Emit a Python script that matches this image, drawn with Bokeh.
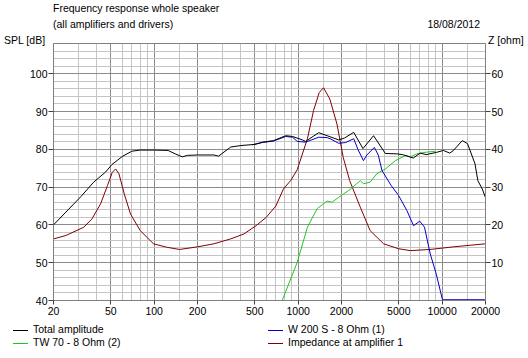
from bokeh.plotting import figure
from bokeh.models import Range1d, LinearAxis, FixedTicker, NumeralTickFormatter, Div
from bokeh.layouts import column
from bokeh.embed import file_html
from bokeh.resources import INLINE

# ---- data ----
total_f = [20, 24.4, 31, 38, 46, 51, 60, 70, 80, 100, 125, 140, 157, 170, 200, 260, 280, 340, 400, 500,
           565, 675, 820, 915, 1070, 1125, 1390, 1590, 1910, 2100, 2430, 2820, 3340, 4030, 4850, 5300, 6300,
           7040, 7740, 9150, 10200, 11300, 11900, 13800, 15000, 16900, 17700, 19000, 20000]
total_db = [60, 63.4, 67.5, 71.3, 74, 76, 78.1, 79.5, 79.8, 79.8, 79.7, 78.8, 78, 78.4, 78.5, 78.5, 78.2, 80.6, 81, 81.3,
            81.9, 82.3, 83.6, 83.4, 82.5, 82.1, 84.4, 83.6, 82.5, 83, 84.5, 80.2, 83.6, 78.9, 78.8, 78.6, 77.7,
            79, 78.6, 79.2, 79.7, 79, 79.6, 82.3, 81.5, 76.2, 71.7, 69.5, 67.2]

woofer_f = [480, 565, 675, 820, 915, 985, 1125, 1390, 1590, 1690, 1910, 2140, 2430, 2600, 2840, 3000, 3380, 3600,
            3820, 4430, 4980, 5690, 6330, 6990, 7540, 8270, 9100, 10050, 20000]
woofer_db = [81.2, 81.8, 82.2, 83.4, 83.2, 82.1, 81.9, 83.2, 83.1, 82.7, 81.6, 81.8, 82.8, 80, 77, 78.5, 80.5, 78.5,
             74.4, 70.4, 67.8, 63.8, 59.8, 61, 59.4, 52.3, 47, 40.2, 40.2]

tweeter_f = [20, 775, 985, 1160, 1355, 1590, 1720, 1910, 2240, 2700, 2840, 3160, 3510, 4030, 4730, 5600, 6000,
             6670, 7600, 9000]
tweeter_db = [40, 40, 50.1, 59.4, 64.3, 66.3, 66, 67.3, 69.1, 71.7, 70.9, 71.3, 73.5, 74.8, 77, 78.4, 78,
              78.8, 79.2, 79.5]

imp_f = [20, 24.4, 32.5, 37, 42.5, 47.4, 51.2, 54, 57, 62, 68.5, 80, 99, 122, 150, 200, 260, 340, 420, 510,
         600, 700, 790, 890, 985, 1160, 1280, 1400, 1500, 1660, 1860, 2055, 2280, 2700, 3160, 3920, 4980, 6000,
         8220, 12000, 20000]
imp_ohm = [16.3, 17.2, 19.4, 21.6, 25.6, 30.4, 33.9, 34.8, 33.5, 28.2, 22.9, 18.5, 15, 14.1, 13.5, 14.2, 15, 16.3,
           17.6, 19.8, 22, 25, 29.5, 31.8, 34.6, 42.8, 50.3, 55, 56.3, 53.3, 46.7, 37.9, 31.7, 24.7, 18.5, 15, 13.7,
           13.2, 13.5, 14.2, 15]

freq_ticks = [20, 50, 100, 200, 500, 1000, 2000, 5000, 10000, 20000]
freq_minor = [30, 40, 60, 70, 80, 90, 150, 300, 400, 600, 700, 800, 900, 1500, 3000, 4000, 6000, 7000, 8000,
              9000, 15000]
spl_ticks = [40, 50, 60, 70, 80, 90, 100]
spl_minor = [42, 44, 46, 48, 52, 54, 56, 58, 62, 64, 66, 68, 72, 74, 76, 78, 82, 84, 86, 88, 92, 94, 96, 98,
             102, 104, 106, 108]
z_ticks = [10, 20, 30, 40, 50, 60]

title1 = "Frequency response whole speaker"
title2 = "(all amplifiers and drivers)"
date_txt = "18/08/2012"
left_label = "SPL [dB]"
right_label = "Z [ohm]"
legend_names = ["Total amplitude", "W 200 S - 8 Ohm (1)", "TW 70 - 8 Ohm (2)", "Impedance at amplifier 1"]
colors = ["#000000", "#0000c8", "#22c422", "#800000"]

FONT = "Liberation Sans"
FS = "10.5px"
W = 528
HEAD_H, MAIN_H, FOOT_H = 43, 279, 36

TXT_CSS = (f"position:absolute;white-space:nowrap;font-family:'{FONT}';font-size:{FS};"
           "line-height:12px;color:#000;")


def tspan(text, top, left=None, right=None):
    side = f"left:{left}px;" if left is not None else f"right:{right}px;"
    return f'<span style="{TXT_CSS}{side}top:{top}px;">{text}</span>'


def lspan(left, top, color):
    return (f'<span style="position:absolute;display:block;left:{left}px;top:{top}px;width:15px;height:1px;'
            f'background-color:{color};"></span>')


def box(inner, h):
    return (f'<div style="position:relative;width:{W}px;height:{h}px;overflow:visible;">'
            + inner + '</div>')


# ---- header (HTML text) ----
head_html = box(
    tspan(title1, 1.6, left=53)
    + tspan(title2, 18, left=53)
    + tspan(date_txt, 18, right=W - 480)
    + tspan(left_label, 34, left=4)
    + tspan(right_label, 34, left=488),
    HEAD_H)
head = Div(text=head_html, width=W, height=HEAD_H, margin=0, styles={"overflow": "visible"})

# ---- main chart ----
p = figure(width=W, height=MAIN_H, x_axis_type="log", x_range=Range1d(20, 20000), y_range=Range1d(40, 108),
           output_backend="svg", toolbar_location=None,
           min_border_left=53, min_border_right=43, min_border_top=0, min_border_bottom=MAIN_H - 257,
           background_fill_color="white", border_fill_color=None, outline_line_color="#808080")
p.extra_y_ranges = {"z": Range1d(0, 68)}

xt = FixedTicker(ticks=freq_ticks, minor_ticks=freq_minor)
yt = FixedTicker(ticks=spl_ticks, minor_ticks=spl_minor)
p.xaxis[0].ticker = xt
p.yaxis[0].ticker = yt
p.xgrid[0].ticker = xt
p.ygrid[0].ticker = yt
p.xaxis[0].formatter = NumeralTickFormatter(format="0")

zax = LinearAxis(y_range_name="z", ticker=FixedTicker(ticks=z_ticks))
p.add_layout(zax, "right")

for g in (p.xgrid[0], p.ygrid[0]):
    g.grid_line_color = "#8c8c8c"
    g.minor_grid_line_color = "#c4c4c4"
    g.level = "underlay"

for ax in (p.xaxis[0], p.yaxis[0], zax):
    ax.axis_line_color = "#808080"
    ax.major_tick_line_color = "#404040"
    ax.major_tick_in = 0
    ax.major_tick_out = 5
    ax.minor_tick_in = 0
    ax.minor_tick_out = 0
    ax.major_label_standoff = 1
    ax.major_label_text_font = FONT
    ax.major_label_text_font_size = FS
    ax.major_label_text_color = "black"
p.xaxis[0].major_tick_out = 4
p.xaxis[0].major_label_standoff = 2

p.line(imp_f, imp_ohm, y_range_name="z", line_color=colors[3], line_width=1)
p.line(tweeter_f, tweeter_db, line_color=colors[2], line_width=1)
p.line(woofer_f, woofer_db, line_color=colors[1], line_width=1)
p.line(total_f, total_db, line_color=colors[0], line_width=1)

# ---- footer legend (HTML) ----
leg_pos = [(13, 1), (268, 1), (13, 14), (268, 14)]
foot_inner = ""
for (lx, ty), name, c in zip(leg_pos, legend_names, colors):
    foot_inner += lspan(lx, ty + 7, c) + tspan(name, ty, left=lx + 20)
foot = Div(text=box(foot_inner, FOOT_H), width=W, height=FOOT_H, margin=0, styles={"overflow": "visible"})

layout = column(head, p, foot, spacing=0)
open("out.html", "w").write(file_html(layout, INLINE))
